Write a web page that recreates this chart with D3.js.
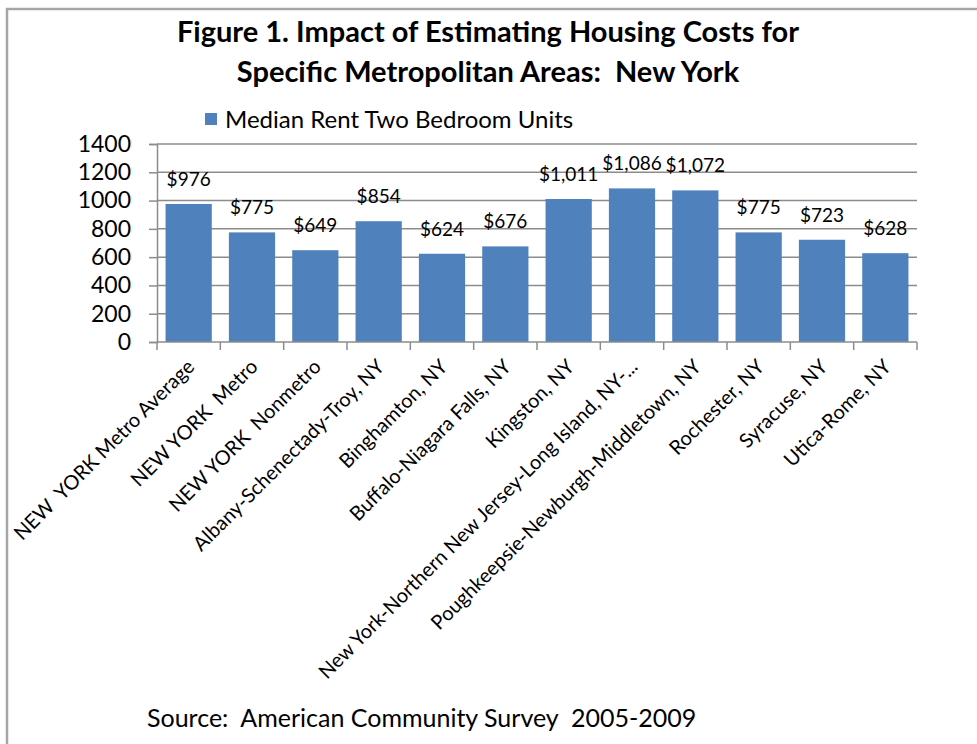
<!DOCTYPE html>
<html>
<head>
<meta charset="utf-8">
<script src="https://cdn.jsdelivr.net/npm/d3@7"></script>
<style>
  body { margin: 0; background: #fff; }
  text { font-family: Lato, "Open Sans", sans-serif; fill: #000; white-space: pre; }
</style>
</head>
<body>
<div class="board"></div>
<script>
// chart values
var categories = [
  'NEW  YORK Metro Average',
  'NEW YORK  Metro',
  'NEW YORK  Nonmetro',
  'Albany-Schenectady-Troy, NY',
  'Binghamton, NY',
  'Buffalo-Niagara Falls, NY',
  'Kingston, NY',
  'New York-Northern New Jersey-Long Island, NY-...',
  'Poughkeepsie-Newburgh-Middletown, NY',
  'Rochester, NY',
  'Syracuse, NY',
  'Utica-Rome, NY'
];
var medianRent = [976, 775, 649, 854, 624, 676, 1011, 1086, 1072, 775, 723, 628];
var yTicks = [0, 200, 400, 600, 800, 1000, 1200, 1400];
var titleLines = ['Figure 1. Impact of Estimating Housing Costs for', 'Specific Metropolitan Areas:  New York'];
var seriesName = 'Median Rent Two Bedroom Units';
var sourceNote = 'Source:  American Community Survey  2005-2009';

var opts = {
  width: 977,
  height: 744,
  left: 157,
  right: 917,
  top: 144,
  bottom: 342
};

var svg = d3.select('.board')
  .append('svg')
  .attr('width', opts.width)
  .attr('height', opts.height);

// chart frame (only left/top edges show in the crop)
svg.append('rect')
  .attr('x', 7).attr('y', 9)
  .attr('width', opts.width + 20).attr('height', opts.height + 20)
  .attr('fill', '#fff')
  .attr('stroke', '#a6a6a6')
  .attr('stroke-width', 2.5);

var x = d3.scaleBand()
  .domain(categories)
  .range([opts.left, opts.right])
  .paddingInner(0.27)
  .paddingOuter(0.135);

var y = d3.scaleLinear()
  .domain([0, 1400])
  .range([opts.bottom, opts.top]);

// gridlines
svg.append('g')
  .selectAll('line')
  .data(yTicks.slice(1))
  .join('line')
  .attr('x1', opts.left).attr('x2', opts.right)
  .attr('y1', function(d) { return y(d); })
  .attr('y2', function(d) { return y(d); })
  .attr('stroke', '#8c8c8c')
  .attr('stroke-width', 1.5);

// y axis
var yAxis = svg.append('g')
  .attr('transform', 'translate(' + opts.left + ',0)')
  .call(d3.axisLeft(y).tickValues(yTicks).tickFormat(d3.format('d')).tickSize(8).tickPadding(18));
yAxis.selectAll('path, line').attr('stroke', '#8c8c8c').attr('stroke-width', 1.5);
yAxis.selectAll('text')
  .attr('font-size', 23)
  .attr('font-family', 'Lato, sans-serif')
  .attr('fill', '#000');

// bars
svg.append('g')
  .selectAll('rect')
  .data(medianRent)
  .join('rect')
  .attr('x', function(d, i) { return x(categories[i]); })
  .attr('y', function(d) { return y(d); })
  .attr('width', x.bandwidth())
  .attr('height', function(d) { return y(0) - y(d); })
  .attr('fill', '#4f81bd');

// value labels
svg.append('g')
  .selectAll('text')
  .data(medianRent)
  .join('text')
  .attr('x', function(d, i) { return x(categories[i]) + x.bandwidth() / 2; })
  .attr('y', function(d) { return y(d) - 18; })
  .attr('text-anchor', 'middle')
  .attr('font-size', 19)
  .text(function(d) { return '$' + d3.format(',')(d); });

// x axis with ticks on category boundaries
var step = x.step();
svg.append('line')
  .attr('x1', opts.left).attr('x2', opts.right)
  .attr('y1', opts.bottom).attr('y2', opts.bottom)
  .attr('stroke', '#8c8c8c').attr('stroke-width', 1.5);
svg.append('g')
  .selectAll('line')
  .data(d3.range(categories.length + 1))
  .join('line')
  .attr('x1', function(i) { return opts.left + i * step; })
  .attr('x2', function(i) { return opts.left + i * step; })
  .attr('y1', opts.bottom).attr('y2', opts.bottom + 8)
  .attr('stroke', '#8c8c8c').attr('stroke-width', 1.5);

svg.append('g')
  .selectAll('text')
  .data(categories)
  .join('text')
  .attr('transform', function(d) {
    return 'translate(' + (x(d) + x.bandwidth() / 2 + 2) + ',' + (opts.bottom + 21) + ') rotate(-45)';
  })
  .attr('text-anchor', 'end')
  .attr('dy', '0.35em')
  .attr('font-size', 20)
  .text(function(d) { return d; });

// title
svg.append('g')
  .selectAll('text')
  .data(titleLines)
  .join('text')
  .attr('x', 488)
  .attr('y', function(d, i) { return 42 + i * 40; })
  .attr('text-anchor', 'middle')
  .attr('font-size', 29)
  .attr('font-weight', 'bold')
  .text(function(d) { return d; });

// legend
svg.append('rect')
  .attr('x', 205).attr('y', 113)
  .attr('width', 12).attr('height', 12)
  .attr('fill', '#4f81bd');
svg.append('text')
  .attr('x', 225).attr('y', 128)
  .attr('font-size', 24)
  .text(seriesName);

// source
svg.append('text')
  .attr('x', 147).attr('y', 727)
  .attr('font-size', 25)
  .text(sourceNote);
</script>
</body>
</html>
